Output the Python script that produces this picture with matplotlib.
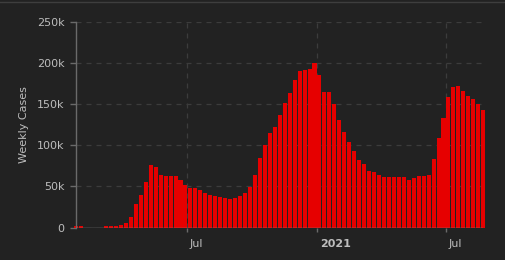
#!/usr/bin/env python3
import numpy as np
import pandas as pd
import matplotlib
matplotlib.use("Agg")
import matplotlib.pyplot as plt
import matplotlib.dates as mdates
import matplotlib.transforms as mtransforms
from matplotlib.lines import Line2D

# weekly case counts, one bar per week starting 2020-01-27
start_week = "2020-01-27"
weekly_cases = [
    1300, 1300, 0, 0, 0, 0, 1300, 1300, 1300, 3000,
    5500, 12800, 28700, 39600, 55500, 76000, 73800, 64000, 62800, 62800,
    62800, 57900, 51800, 48200, 48200, 45700, 42000, 39600, 38400, 37200,
    36000, 34800, 36000, 38400, 42000, 49400, 64000, 84800, 100600, 115000,
    122600, 137000, 151800, 164000, 180000, 191000, 192000, 193000, 200600, 186000,
    165000, 165000, 150600, 131000, 116500, 104000, 93000, 82300, 77400, 68900,
    67700, 64000, 61600, 61600, 61600, 61600, 61600, 57900, 60400, 62800,
    62800, 64000, 83500, 109000, 133500, 159000, 171000, 172600, 166500, 160400,
    156700, 150600, 143300,
]
weeks = pd.date_range(start_week, periods=len(weekly_cases), freq="7D")

y_ticks = [0, 50000, 100000, 150000, 200000, 250000]
y_tick_labels = ["0", "50k", "100k", "150k", "200k", "250k"]
x_ticks = pd.to_datetime(["2020-07-01", "2021-01-01", "2021-07-01"])
x_tick_labels = ["Jul", "2021", "Jul"]

BG = "#222222"
BAR = "#e60000"
TXT = "#bdbdbd"
GRID = "#3c3c3c"

fig = plt.figure(figsize=(5.05, 2.6), dpi=100, facecolor=BG)
ax = fig.add_axes([76.3 / 505, 32.5 / 260, 406.9 / 505, 205.2 / 260], facecolor=BG)

ax.bar(weeks, weekly_cases, width=5.7, color=BAR, linewidth=0, zorder=2, clip_on=False)

ax.set_xlim(weeks[0], weeks[-1])
ax.set_ylim(0, 250000)

ax.set_yticks(y_ticks)
ax.set_yticklabels(y_tick_labels)
ax.set_xticks(x_ticks)
ax.set_xticklabels(x_tick_labels)

ax.grid(True, color=GRID, linestyle=(0, (4, 4)), linewidth=0.9, zorder=0)
for s in ["top", "right", "bottom"]:
    ax.spines[s].set_visible(False)
ax.spines["left"].set_color("#6a6a6a")
ax.spines["left"].set_linewidth(1)
ax.axhline(0, color="#8a8a8a", linewidth=1.0, zorder=3)

ax.tick_params(axis="y", colors="#6a6a6a", labelcolor=TXT, length=4.5, width=1, pad=4, labelsize=8)
ax.tick_params(axis="x", colors="#6a6a6a", labelcolor=TXT, length=3, width=1, pad=5, labelsize=8)

# x labels sit just to the right of their tick
offset = mtransforms.ScaledTranslation(3 / 100, 0, fig.dpi_scale_trans)
for lbl in ax.get_xticklabels():
    lbl.set_horizontalalignment("left")
    lbl.set_transform(lbl.get_transform() + offset)
    if lbl.get_text() == "2021":
        lbl.set_fontweight("bold")

ax.set_ylabel("Weekly Cases", color=TXT, fontsize=8, labelpad=6)

fig.add_artist(Line2D([0, 1], [1 - 1.5 / 260, 1 - 1.5 / 260], color="#3e3e3e", linewidth=1))

fig.savefig("out.png", dpi=100, facecolor=BG)
